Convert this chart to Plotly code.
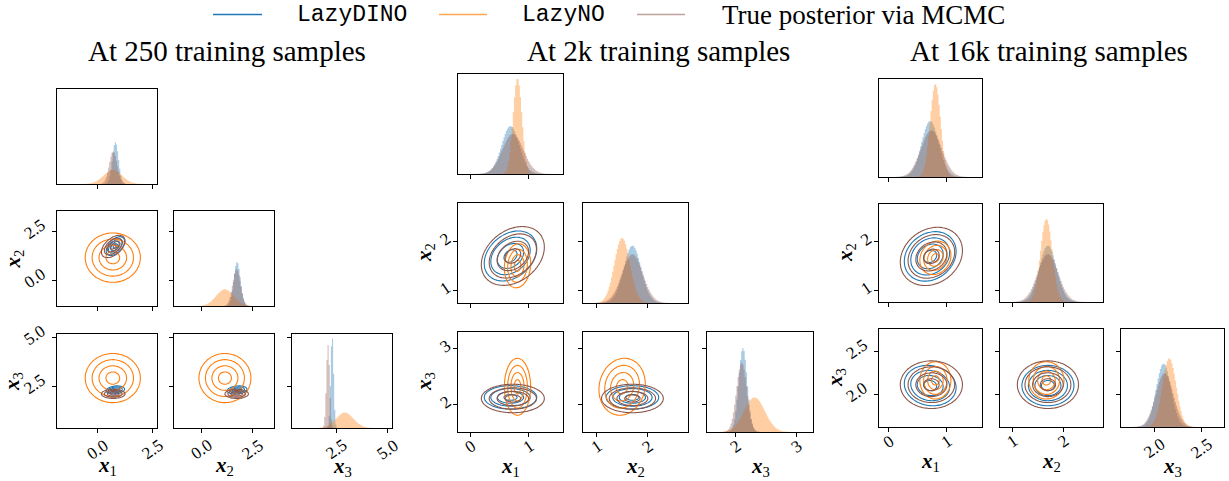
import numpy as np
import plotly.graph_objects as go

W, H = 1229, 481

series_names = ["LazyDINO", "LazyNO", "True posterior via MCMC"]
series_colors = ["#1f77b4", "#ff7f0e", "#8c564b"]
series_fills = ["rgba(31,119,180,0.38)", "rgba(255,127,14,0.38)", "rgba(140,86,75,0.38)"]
legend_line_colors = ["#1f77b4", "rgba(255,127,14,0.7)", "rgba(140,86,75,0.55)"]

panel_titles = ["At 250 training samples", "At 2k training samples", "At 16k training samples"]
var_labels = ["<b><i>x</i></b><sub>1</sub>", "<b><i>x</i></b><sub>2</sub>", "<b><i>x</i></b><sub>3</sub>"]

# Posterior summaries (means / std devs of x1, x2, x3; correlations of (x1,x2), (x1,x3), (x2,x3))
mean_250_dino = [0.80, 1.74, 2.31]
std_250_dino = [0.14, 0.16, 0.07]
corr_250_dino = [0.5, 0.2, 0.2]
mean_250_no = [0.68, 1.15, 2.92]
std_250_no = [0.42, 0.42, 0.42]
corr_250_no = [0.0, 0.0, 0.0]
mean_250_mcmc = [0.70, 1.72, 2.11]
std_250_mcmc = [0.18, 0.19, 0.078]
corr_250_mcmc = [0.5, 0.0, 0.0]

mean_2k_dino = [0.69, 1.70, 2.12]
std_2k_dino = [0.15, 0.17, 0.07]
corr_2k_dino = [0.3, 0.0, 0.0]
mean_2k_no = [0.81, 1.50, 2.31]
std_2k_no = [0.075, 0.15, 0.17]
corr_2k_no = [0.1, 0.0, 0.1]
mean_2k_mcmc = [0.73, 1.70, 2.10]
std_2k_mcmc = [0.18, 0.20, 0.085]
corr_2k_mcmc = [0.3, 0.0, 0.0]

mean_16k_dino = [0.72, 1.70, 2.10]
std_16k_dino = [0.15, 0.17, 0.078]
corr_16k_dino = [0.2, -0.1, 0.0]
mean_16k_no = [0.81, 1.67, 2.16]
std_16k_no = [0.09, 0.115, 0.072]
corr_16k_no = [0.15, 0.0, 0.0]
mean_16k_mcmc = [0.74, 1.70, 2.11]
std_16k_mcmc = [0.18, 0.20, 0.092]
corr_16k_mcmc = [0.2, 0.0, 0.0]

# Tick values and labels per variable
ticks_250 = [[0.0, 2.5], [0.0, 2.5], [2.5, 5.0]]
ticklabels_250 = [["0.0", "2.5"], ["0.0", "2.5"], ["2.5", "5.0"]]
ticks_2k = [[0, 1], [1, 2], [2, 3]]
ticklabels_2k = [["0", "1"], ["1", "2"], ["2", "3"]]
ticks_16k = [[0, 1], [1, 2], [2.0, 2.5]]
ticklabels_16k = [["0", "1"], ["1", "2"], ["2.0", "2.5"]]

# Axis ranges per variable (rows / columns), plus the x3 marginal range
ranges_250 = [[-1.87, 2.70], [-1.32, 3.53], [0.36, 5.18]]
x3_hist_range_250 = [0.37, 5.20]
ranges_2k = [[-0.21, 1.59], [0.74, 2.78], [1.50, 3.29]]
x3_hist_range_2k = [1.53, 3.27]
ranges_16k = [[-0.17, 1.62], [0.76, 2.78], [1.62, 2.755]]
x3_hist_range_16k = [1.652, 2.735]

# Share of the marginal box height filled by its tallest histogram
diag_fill_250 = [0.44, 0.46, 0.95]
diag_fill_2k = [0.95, 0.65, 0.84]
diag_fill_16k = [0.95, 0.85, 0.70]

panels = [
    dict(title=panel_titles[0], title_x=227,
         means=[mean_250_dino, mean_250_no, mean_250_mcmc],
         stds=[std_250_dino, std_250_no, std_250_mcmc],
         corrs=[corr_250_dino, corr_250_no, corr_250_mcmc],
         ticks=ticks_250, ticklabels=ticklabels_250, ranges=ranges_250,
         x3_hist_range=x3_hist_range_250, diag_fill=diag_fill_250,
         cols=[(57, 157), (174, 274), (292, 392)],
         rows=[(89, 184), (211, 306), (334, 428)],
         ylab_x=[13, 13], xlab_y=[466, 466, 467]),
    dict(title=panel_titles[1], title_x=658,
         means=[mean_2k_dino, mean_2k_no, mean_2k_mcmc],
         stds=[std_2k_dino, std_2k_no, std_2k_mcmc],
         corrs=[corr_2k_dino, corr_2k_no, corr_2k_mcmc],
         ticks=ticks_2k, ticklabels=ticklabels_2k, ranges=ranges_2k,
         x3_hist_range=x3_hist_range_2k, diag_fill=diag_fill_2k,
         cols=[(458, 563), (583, 688), (707, 813)],
         rows=[(74, 174), (203, 303), (332, 432)],
         ylab_x=[425, 425], xlab_y=[467, 467, 467]),
    dict(title=panel_titles[2], title_x=1049,
         means=[mean_16k_dino, mean_16k_no, mean_16k_mcmc],
         stds=[std_16k_dino, std_16k_no, std_16k_mcmc],
         corrs=[corr_16k_dino, corr_16k_no, corr_16k_mcmc],
         ticks=ticks_16k, ticklabels=ticklabels_16k, ranges=ranges_16k,
         x3_hist_range=x3_hist_range_16k, diag_fill=diag_fill_16k,
         cols=[(879, 982), (1000, 1103), (1121, 1224)],
         rows=[(79, 177), (204, 302), (329, 427)],
         ylab_x=[846, 836], xlab_y=[462, 462, 467]),
]

SERIF = "Liberation Serif"
MONO = "Liberation Mono"
TICK_FONT = dict(family=SERIF, size=17, color="black")
TICK_ANGLE = -35
N_BINS = 90
N_GRID = 80


def pdf(x, m, s):
    return np.exp(-0.5 * ((x - m) / s) ** 2) / (s * np.sqrt(2 * np.pi))


def corr_of(c, i, j):
    key = {(0, 1): 0, (0, 2): 1, (1, 2): 2}[(min(i, j), max(i, j))]
    return c[key]


def label_gap(text, short_gap, long_gap):
    # rotated one-character labels carry more empty box around the glyph
    return short_gap if len(text) == 1 else long_gap


fig = go.Figure()
layout = dict()
annotations = []
shapes = []

axis_common = dict(showgrid=False, zeroline=False, showline=True, mirror=True,
                   linecolor="black", linewidth=1, ticks="outside", ticklen=4,
                   tickwidth=1, tickcolor="black", showticklabels=False)

k = 0
for p in panels:
    for i in range(3):
        for j in range(i + 1):
            k += 1
            xa = "xaxis" if k == 1 else f"xaxis{k}"
            ya = "yaxis" if k == 1 else f"yaxis{k}"
            xr = "x" if k == 1 else f"x{k}"
            yr = "y" if k == 1 else f"y{k}"
            c0, c1 = p["cols"][j]
            r0, r1 = p["rows"][i]
            x_range = p["x3_hist_range"] if (i == j == 2) else p["ranges"][j]

            xaxis = dict(axis_common, domain=[c0 / W, c1 / W], anchor=yr,
                         range=x_range, tickvals=p["ticks"][j])
            yaxis = dict(axis_common, domain=[1 - r1 / H, 1 - r0 / H], anchor=xr)

            # rotated tick labels along the bottom row
            if i == 2:
                for tv, tt in zip(p["ticks"][j], p["ticklabels"][j]):
                    gap = label_gap(tt, 1, 5)
                    annotations.append(dict(
                        text=tt, x=tv, xref=xr, y=1 - (r1 + gap) / H, yref="paper",
                        xanchor="center", yanchor="top", showarrow=False,
                        textangle=TICK_ANGLE, font=TICK_FONT))

            if i == j:
                # marginal histograms
                lo, hi = x_range
                edges = np.linspace(lo, hi, N_BINS + 1)
                centers = 0.5 * (edges[:-1] + edges[1:])
                peak = 0.0
                for s in range(3):
                    dens = pdf(centers, p["means"][s][j], p["stds"][s][j])
                    peak = max(peak, dens.max())
                    fig.add_trace(go.Scatter(
                        x=edges, y=np.append(dens, dens[-1]), mode="lines",
                        line=dict(width=0, shape="hv"), fill="tozeroy",
                        fillcolor=series_fills[s], xaxis=xr, yaxis=yr,
                        showlegend=False, hoverinfo="skip"))
                ymax = peak / p["diag_fill"][j]
                yaxis.update(range=[0, ymax])
                if i > 0:
                    rlo, rhi = p["ranges"][i]
                    tv = [(t - rlo) / (rhi - rlo) * ymax for t in p["ticks"][i]]
                    yaxis.update(tickvals=tv)
                else:
                    yaxis.update(ticks="", tickvals=[])
            else:
                # pairwise contours
                xs = np.linspace(*p["ranges"][j], N_GRID)
                ys = np.linspace(*p["ranges"][i], N_GRID)
                X, Y = np.meshgrid(xs, ys)
                for s in range(3):
                    mx, my = p["means"][s][j], p["means"][s][i]
                    sx, sy = p["stds"][s][j], p["stds"][s][i]
                    rho = corr_of(p["corrs"][s], i, j)
                    dx, dy = (X - mx) / sx, (Y - my) / sy
                    r = np.sqrt((dx ** 2 - 2 * rho * dx * dy + dy ** 2) / (1 - rho ** 2))
                    col = series_colors[s]
                    fig.add_trace(go.Contour(
                        x=xs, y=ys, z=r, xaxis=xr, yaxis=yr,
                        contours=dict(coloring="lines", start=0.75, end=3.0, size=0.75),
                        colorscale=[[0, col], [1, col]], showscale=False,
                        line=dict(width=1.1, smoothing=1.0),
                        showlegend=False, hoverinfo="skip"))
                yaxis.update(range=p["ranges"][i], tickvals=p["ticks"][i])
                if j == 0:
                    for tv, tt in zip(p["ticks"][i], p["ticklabels"][i]):
                        gap = label_gap(tt, 1, 6)
                        annotations.append(dict(
                            text=tt, y=tv, yref=yr, x=(c0 - gap) / W, xref="paper",
                            xanchor="right", yanchor="middle", yshift=2,
                            showarrow=False, textangle=TICK_ANGLE, font=TICK_FONT))
            layout[xa] = xaxis
            layout[ya] = yaxis

    # panel title
    annotations.append(dict(text=p["title"], x=p["title_x"] / W, y=1 - 51 / H,
                            xref="paper", yref="paper", showarrow=False,
                            xanchor="center", yanchor="middle",
                            font=dict(family=SERIF, size=29, color="black")))
    # axis labels
    for j in range(3):
        c0, c1 = p["cols"][j]
        annotations.append(dict(text=var_labels[j], x=(c0 + c1) / 2 / W,
                                y=1 - p["xlab_y"][j] / H, xref="paper", yref="paper",
                                showarrow=False, xanchor="center", yanchor="middle",
                                font=dict(family=SERIF, size=21, color="black")))
    for n, i in enumerate([1, 2]):
        r0, r1 = p["rows"][i]
        annotations.append(dict(text=var_labels[i], x=p["ylab_x"][n] / W,
                                y=1 - (r0 + r1) / 2 / H, xref="paper", yref="paper",
                                showarrow=False, xanchor="center", yanchor="middle",
                                textangle=-90,
                                font=dict(family=SERIF, size=21, color="black")))

# legend row
legend_line_x = [(213, 262), (439, 487), (637, 685)]
legend_text_x = [295, 520, 720]
legend_fonts = [dict(family=MONO, size=23, color="black"),
                dict(family=MONO, size=23, color="black"),
                dict(family=SERIF, size=27, color="black")]
for s in range(3):
    a, b = legend_line_x[s]
    shapes.append(dict(type="line", xref="paper", yref="paper",
                       x0=a / W, x1=b / W, y0=1 - 14.5 / H, y1=1 - 14.5 / H,
                       line=dict(color=legend_line_colors[s], width=1.5)))
    annotations.append(dict(text=series_names[s], x=legend_text_x[s] / W,
                            y=1 - 15 / H, xref="paper", yref="paper",
                            showarrow=False, xanchor="left", yanchor="middle",
                            font=legend_fonts[s]))

fig.update_layout(
    width=W, height=H, margin=dict(l=0, r=0, t=0, b=0),
    paper_bgcolor="white", plot_bgcolor="white",
    showlegend=False, annotations=annotations, shapes=shapes, **layout)

fig.write_html("out.html", include_plotlyjs=True, config=dict(displayModeBar=False))
